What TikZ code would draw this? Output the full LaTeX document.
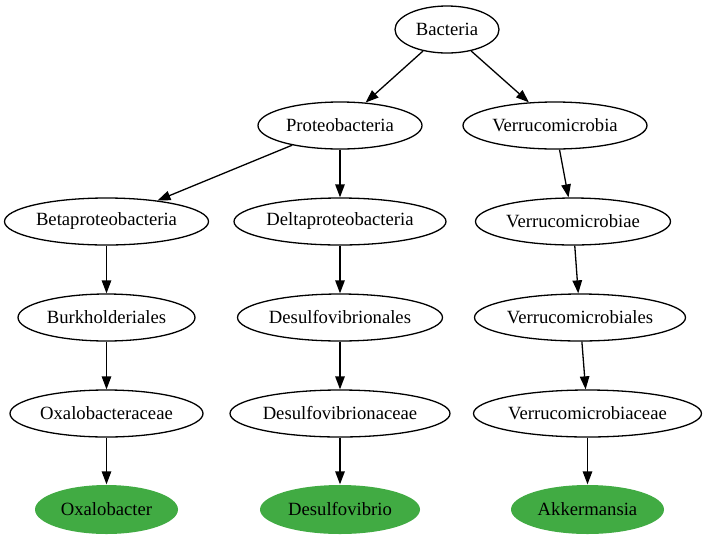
\documentclass[tikz,border=0pt]{standalone}
\usepackage{fontspec}
\setmainfont{Liberation Serif}
\usetikzlibrary{shapes.geometric}
\usetikzlibrary{positioning}
\usetikzlibrary{arrows.meta}
\definecolor{leafgreen}{RGB}{65,171,67}
\tikzset{node distance=96pt, % Vertical distance between two ranks
taxon/.style={ % Sets the properties for each taxon
ellipse,
draw,
line width=1.3pt,
minimum height=47pt,
inner sep=0pt,
font=\fontsize{18.67}{22}\selectfont},
leaf/.style={ % Genus level, filled
taxon,
draw=none,
fill=leafgreen,
minimum height=49pt},
every edge/.style={ % Sets the properties for each link
draw,
-{Triangle[length=13pt,width=9.5pt]},
line width=1.3pt}}

\begin{document}
\begin{tikzpicture}
					\useasboundingbox (0pt,0pt) rectangle (707pt,-539pt);

					\node[taxon, minimum width=104pt] (bac) at (447pt,-29.5pt) {Bacteria};

					\node[taxon, minimum width=164pt, below of=bac, xshift=-107pt] (prot) {Proteobacteria};
					\node[taxon, minimum width=184pt, below of=bac, xshift=108pt] (verr) {Verrucomicrobia};

					\node[taxon, minimum width=204pt, below of=prot, xshift=-233.5pt] (beta) {Betaproteobacteria};
					\node[taxon, minimum width=212pt, below of=prot] (delta) {Deltaproteobacteria};
					\node[taxon, minimum width=195pt, below of=verr, xshift=18pt] (verrc) {Verrucomicrobiae};

					\node[taxon, minimum width=177pt, below of=beta] (burk) {Burkholderiales};
					\node[taxon, minimum width=205pt, below of=delta] (desulo) {Desulfovibrionales};
					\node[taxon, minimum width=211pt, below of=verrc, xshift=7pt] (verro) {Verrucomicrobiales};

					\node[taxon, minimum width=193pt, below of=burk] (oxaf) {Oxalobacteraceae};
					\node[taxon, minimum width=220pt, below of=desulo] (desulf) {Desulfovibrionaceae};
					\node[taxon, minimum width=228pt, below of=verro, xshift=7.5pt] (verrf) {Verrucomicrobiaceae};

					\node[leaf, minimum width=143pt, below of=oxaf] (oxa) {Oxalobacter};
					\node[leaf, minimum width=160pt, below of=desulf] (desul) {Desulfovibrio};
					\node[leaf, minimum width=153pt, below of=verrf] (akk) {Akkermansia};

					\draw (bac) edge (prot);
					\draw (bac) edge (verr);

					\draw (prot) edge (beta);
					\draw (prot) edge (delta);
					\draw (verr) edge (verrc);

					\draw (beta) edge (burk);
					\draw (delta) edge (desulo);
					\draw (verrc) edge (verro);

					\draw (burk) edge (oxaf);
					\draw (desulo) edge (desulf);
					\draw (verro) edge (verrf);

					\draw (oxaf) edge (oxa);
					\draw (desulf) edge (desul);
					\draw (verrf) edge (akk);
				\end{tikzpicture}
\end{document}
